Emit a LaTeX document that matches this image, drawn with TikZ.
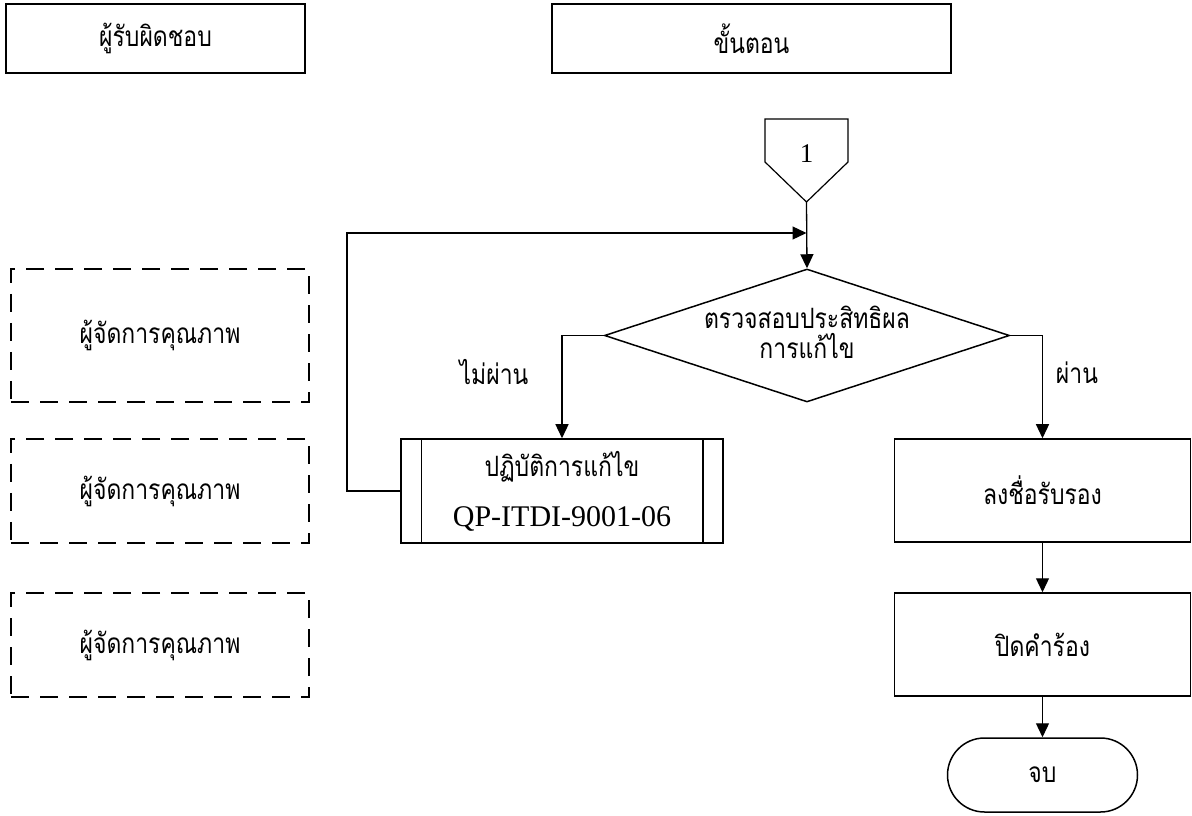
\documentclass[tikz,border=0pt]{standalone}
\usepackage{fontspec}
\setmainfont{Liberation Serif}
\newfontfamily\thaifont[Script=Thai, FakeStretch=0.82]{Loma}
\usetikzlibrary{arrows.meta,shapes.geometric}

\begin{document}
\begin{tikzpicture}[x=1pt, y=1pt,
	boxsolid/.style={draw, line width=1.5pt, inner sep=0pt, font=\thaifont\fontsize{28}{34}\selectfont},
	boxdash/.style={draw, line width=1.5pt, dash pattern=on 18pt off 11pt, inner sep=0pt, font=\thaifont\fontsize{28}{34}\selectfont},
	flow/.style={line width=1.3pt, -{Triangle[length=14pt, width=13pt]}},
	word/.style={font=\thaifont\fontsize{28}{34}\selectfont}]
	\useasboundingbox (0,0) rectangle (1192,815);

	% Encabezados
		\node [boxsolid, minimum width=299, minimum height=69] (resp) at (155.5,776.5) {ผู้รับผิดชอบ};
		\node [boxsolid, minimum width=399, minimum height=69] (step) at (751.5,776.5) {ขั้นตอน};

	% Responsables
		\node [boxdash, minimum width=298, minimum height=133] (qm1) at (160,479.5) {ผู้จัดการคุณภาพ};
		\node [boxdash, minimum width=298, minimum height=104] (qm2) at (160,324) {ผู้จัดการคุณภาพ};
		\node [boxdash, minimum width=298, minimum height=104] (qm3) at (160,170) {ผู้จัดการคุณภาพ};

	% Conector de página
		\draw [line width=1.2pt] (765,696) -- (848,696) -- (848,653) -- (806.5,613) coordinate (conn) -- (765,653) -- cycle;
		\node [font=\fontsize{27}{30}\selectfont] (one) at (806.5,661) {1};
		\coordinate (merge) at (806.5,582);

	% Decisión
		\node [diamond, draw, line width=1.5pt, inner sep=0pt, minimum width=405, minimum height=133] (check) at (807,479.5) {};
		\node [word, align=center] (checktxt) at (807,483) {ตรวจสอบประสิทธิผล\\[-4pt]การแก้ไข};

	% Procesos
		\node [boxsolid, minimum width=322, minimum height=104, align=center] (fix) at (562,324) {ปฏิบัติการแก้ไข\\[16pt]{\rmfamily\fontsize{30}{34}\selectfont QP-ITDI-9001-06}};
		\draw [line width=1.5pt] ([xshift=21pt]fix.north west) -- ([xshift=21pt]fix.south west);
		\draw [line width=1.5pt] ([xshift=-21pt]fix.north east) -- ([xshift=-21pt]fix.south east);
		\node [boxsolid, minimum width=296, minimum height=103] (sign) at (1042.5,324.5) {ลงชื่อรับรอง};
		\node [boxsolid, minimum width=296, minimum height=103] (close) at (1042.5,170.5) {ปิดคำร้อง};
		\node [boxsolid, minimum width=190, minimum height=74, rounded corners=37pt] (stop) at (1042.5,40) {จบ};

	% Etiquetas
		\node [word] (fail) at (494,443) {ไม่ผ่าน};
		\node [word] (pass) at (1077,442) {ผ่าน};

	% Flechas
		\draw [flow] (conn) -- (check.north);
		\draw [flow] (fix.west) -- (347,324) |- (merge);
		\draw [flow] (check.west) -| (fix.north);
		\draw [flow] (check.east) -| (sign.north);
		\draw [flow] (sign.south) -- (close.north);
		\draw [flow] (close.south) -- (stop.north);
\end{tikzpicture}
\end{document}
